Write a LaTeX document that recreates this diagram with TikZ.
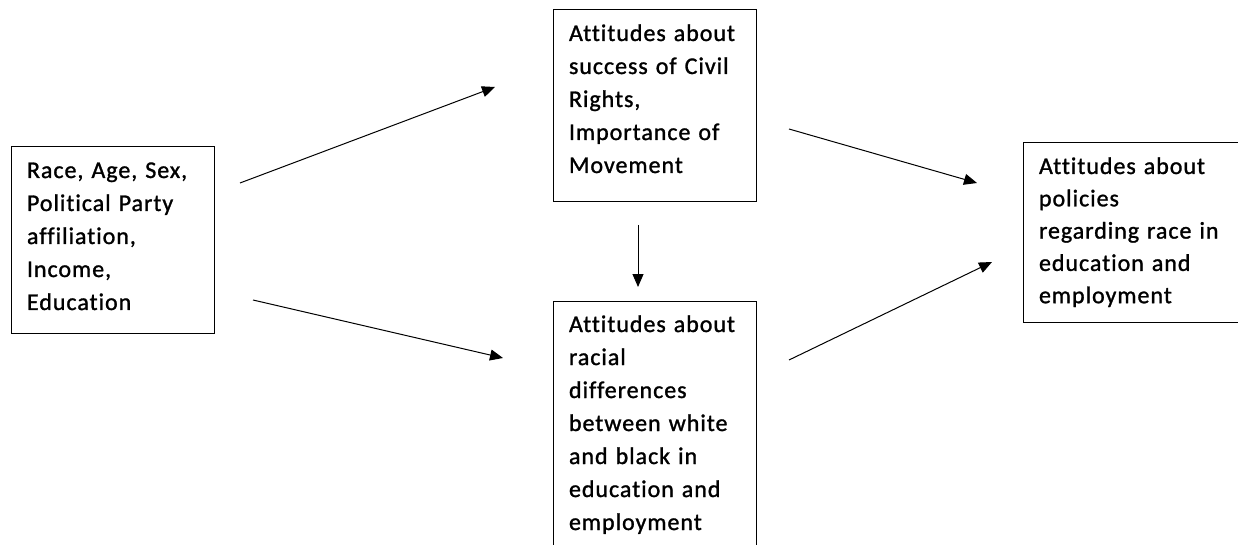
\documentclass[tikz,border=0pt]{standalone}
\usepackage{fontspec}
\setmainfont{Carlito}[LetterSpace=4, WordSpace=0.7, FakeBold=1.2, Ligatures=NoCommon]
\usetikzlibrary{arrows.meta}

\tikzset{
  factor/.style={draw, line width=1pt, anchor=north west, align=left,
    outer sep=0pt, inner xsep=16pt, inner ysep=0pt, text width=171pt,
    text height=31pt, text depth=#1, font=\fontsize{24}{33}\selectfont},
  link/.style={line width=1pt, -{Triangle[length=13pt,width=11pt]}}
}

\begin{document}
\begin{tikzpicture}[x=1pt, y=-1pt]
	\useasboundingbox (0,0) rectangle (1238,545);
	\clip (0,0) rectangle (1238,545);

% boxes
	\node[factor=155pt] (demog) at (11,147) {Race, Age, Sex,\\Political Party\\affiliation,\\Income,\\Education};
	\node[factor=161pt] (civil) at (553,10) {Attitudes about\\success of Civil\\Rights,\\Importance of\\Movement};
	\node[factor=260pt] (gap) at (553,301) {Attitudes about\\racial\\differences\\between white\\and black in\\education and\\employment};
	\node[factor=148pt, text width=200pt, font=\fontsize{24}{32.3}\selectfont] (policy) at (1023,143) {Attitudes about\\policies\\regarding race in\\education and\\employment};

% arrow ends
	\coordinate (demog-up) at (240,183);
	\coordinate (civil-in) at (495,87);
	\coordinate (demog-down) at (253,300);
	\coordinate (gap-in) at (503,358);
	\coordinate (civil-down) at (638,225);
	\coordinate (gap-top) at (638,287);
	\coordinate (civil-out) at (789,129);
	\coordinate (policy-up) at (977,183);
	\coordinate (gap-out) at (789,360);
	\coordinate (policy-down) at (992,262);

	\draw[link] (demog-up) -- (civil-in);
	\draw[link] (demog-down) -- (gap-in);
	\draw[link] (civil-down) -- (gap-top);
	\draw[link] (civil-out) -- (policy-up);
	\draw[link] (gap-out) -- (policy-down);
\end{tikzpicture}
\end{document}
